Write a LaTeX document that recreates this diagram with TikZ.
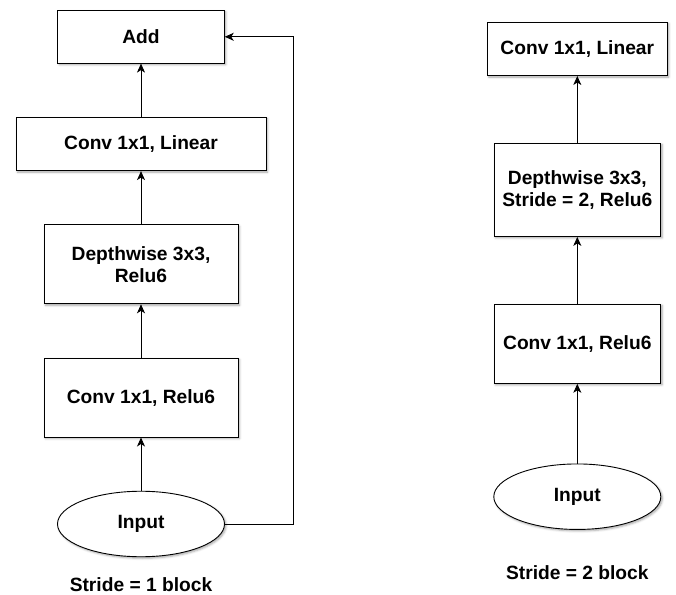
\documentclass[tikz,border=0pt]{standalone}
\usepackage{fontspec}
\setmainfont{Liberation Sans}
\usetikzlibrary{positioning,shapes.geometric,arrows.meta,shadows.blur}
\tikzset{
blk/.style={
	  draw, fill=white, line width=0.9pt, align=center,
	    font=\fontsize{19.2}{22}\selectfont\bfseries,
    blur shadow={shadow xshift=1.5pt, shadow yshift=-1.5pt,
    shadow blur steps=4, shadow opacity=35}},
inp/.style={blk, ellipse, inner sep=0pt, minimum width=167pt, minimum height=65.5pt},
arr/.style={-{Stealth[length=9pt, width=8pt, inset=2.5pt]}, line width=0.9pt},
blkcap/.style={font=\fontsize{19.2}{22}\selectfont\bfseries, inner sep=0pt}
}

\begin{document}
\begin{tikzpicture}[x=1pt, y=1pt, node distance=53.3pt]
	\useasboundingbox (0,0) rectangle (676,594);
	% stride 1
	\node[inp] (inL) at (141,70) {Input};
	\node[blk, minimum width=194pt, minimum height=79pt, above=of inL] (reluL) {Conv 1x1, Relu6};
	\node[blk, minimum width=194pt, minimum height=79pt, above=of reluL] (dwL) {Depthwise 3x3,\\Relu6};
	\node[blk, minimum width=250pt, minimum height=53.3pt, above=of dwL] (linL) {Conv 1x1, Linear};
	\node[blk, minimum width=166.6pt, minimum height=52.7pt, above=of linL] (add) {Add};
	\node[blkcap, below=20pt of inL] (capL) {Stride = 1 block};
	\coordinate (skip) at (293.3,0);
	\draw[arr] (inL) -- (reluL);
	\draw[arr] (reluL) -- (dwL);
	\draw[arr] (dwL) -- (linL);
	\draw[arr] (linL) -- (add);
	\draw[arr] (inL.east) -- (inL.east -| skip) |- (add.east);
	% stride 2
	\node[inp] (inR) at (577.3,97.3) {Input};
	\node[blk, minimum width=166.7pt, minimum height=79.3pt, above=79.7pt of inR] (reluR) {Conv 1x1, Relu6};
	\node[blk, minimum width=166.7pt, minimum height=93.3pt, above=66.7pt of reluR] (dwR) {Depthwise 3x3,\\Stride = 2, Relu6};
	\node[blk, minimum width=180pt, minimum height=53.3pt, above=66.7pt of dwR] (linR) {Conv 1x1, Linear};
	\node[blkcap, below=35pt of inR] (capR) {Stride = 2 block};
	\draw[arr] (inR) -- (reluR);
	\draw[arr] (reluR) -- (dwR);
	\draw[arr] (dwR) -- (linR);
\end{tikzpicture}
\end{document}
